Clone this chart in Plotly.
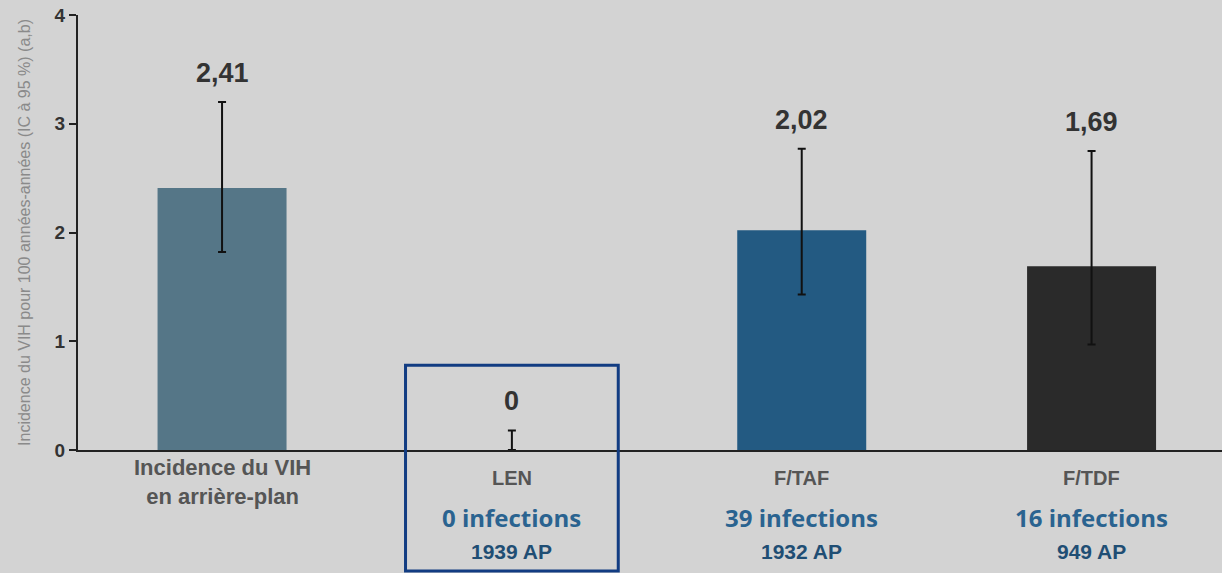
import plotly.graph_objects as go

categories = ["Incidence du VIH<br>en arrière-plan", "LEN", "F/TAF", "F/TDF"]
values = [2.41, 0.0, 2.02, 1.69]
value_labels = ["2,41", "0", "2,02", "1,69"]
ci_upper = [3.20, 0.18, 2.77, 2.75]
ci_lower = [1.82, 0.0, 1.43, 0.97]
infections = ["", "0 infections", "39 infections", "16 infections"]
person_years = ["", "1939 AP", "1932 AP", "949 AP"]
bar_colors = ["#557687", "rgba(0,0,0,0)", "#235a82", "#2a2a2a"]

x_idx = list(range(len(categories)))
err_plus = [u - v for u, v in zip(ci_upper, values)]
err_minus = [v - l for v, l in zip(values, ci_lower)]

fig = go.Figure()
fig.add_trace(go.Bar(
    x=x_idx, y=values, width=0.445,
    marker=dict(color=bar_colors, line=dict(width=0)),
    error_y=dict(type="data", symmetric=False, array=err_plus, arrayminus=err_minus,
                 color="#111111", thickness=2, width=4),
    showlegend=False, hoverinfo="skip",
))

annotations = []
for i, (u, lab) in enumerate(zip(ci_upper, value_labels)):
    annotations.append(dict(x=i, y=u, xref="x", yref="y", text=f"<b>{lab}</b>",
                            showarrow=False, yanchor="bottom", yshift=12,
                            font=dict(family="Liberation Sans", size=27, color="#333333")))

for i, cat in enumerate(categories):
    multi = "<br>" in cat
    annotations.append(dict(x=i, y=-0.074 if multi else -0.064, xref="x", yref="paper",
                            text=f"<b>{cat}</b>", showarrow=False, yanchor="middle",
                            font=dict(family="Liberation Sans", size=22 if multi else 20,
                                      color="#555555")))
    if infections[i]:
        annotations.append(dict(x=i, y=-0.156, xref="x", yref="paper",
                                text=f"<b>{infections[i]}</b>", showarrow=False, yanchor="middle",
                                font=dict(family="Open Sans", size=24, color="#2a6390")))
        annotations.append(dict(x=i, y=-0.234, xref="x", yref="paper",
                                text=f"<b>{person_years[i]}</b>", showarrow=False, yanchor="middle",
                                font=dict(family="Liberation Sans", size=21, color="#1f4e74")))

len_idx = categories.index("LEN")
shapes = [dict(type="rect", xref="x", yref="paper",
               x0=len_idx - 0.367, x1=len_idx + 0.367, y0=-0.278, y1=0.195,
               line=dict(color="#123c82", width=3), fillcolor="rgba(0,0,0,0)", layer="above")]

fig.update_layout(
    width=1222, height=573,
    margin=dict(l=78, r=0, t=15, b=123),
    paper_bgcolor="#d3d3d3", plot_bgcolor="#d3d3d3",
    annotations=annotations, shapes=shapes,
    xaxis=dict(range=[-0.497, 3.45], showticklabels=False, ticks="", showgrid=False,
               zeroline=False, showline=True, linecolor="#222222", linewidth=2, fixedrange=True),
    yaxis=dict(range=[0, 4], tickvals=[0, 1, 2, 3, 4],
               ticktext=["<b>0</b>", "<b>1</b>", "<b>2</b>", "<b>3</b>", "<b>4</b>"],
               ticks="outside", ticklen=7, tickwidth=2, tickcolor="#222222",
               tickfont=dict(family="Liberation Sans", size=19, color="#333333"),
               showgrid=False, zeroline=False, showline=True, linecolor="#222222", linewidth=2,
               title=dict(text="Incidence du VIH pour 100 années-années (IC à 95 %) (a,b)",
                          font=dict(family="Liberation Sans", size=16, color="#8a8a8a"),
                          standoff=20)),
    font=dict(family="Liberation Sans"),
)

fig.write_html("out.html", config={"displayModeBar": False},
               post_script="document.body.style.margin='0';document.body.style.overflow='hidden';document.body.style.background='#d3d3d3';")
